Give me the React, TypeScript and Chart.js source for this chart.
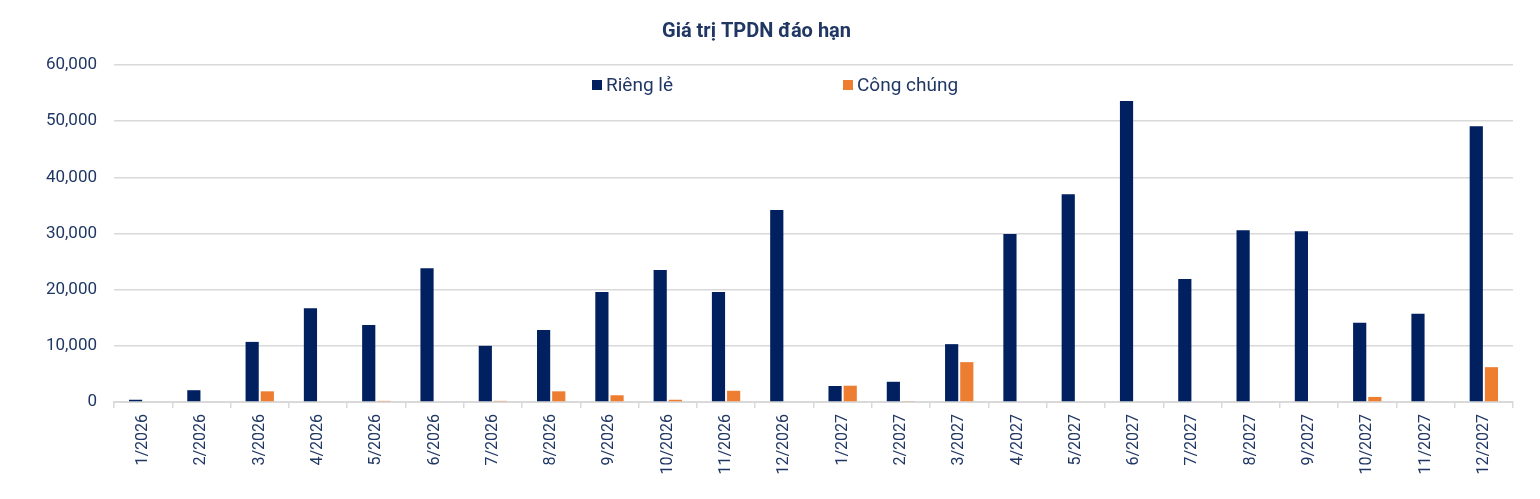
import { useEffect, useRef } from "react"
import Chart from "chart.js/auto"

const months = [
  "1/2026", "2/2026", "3/2026", "4/2026", "5/2026", "6/2026",
  "7/2026", "8/2026", "9/2026", "10/2026", "11/2026", "12/2026",
  "1/2027", "2/2027", "3/2027", "4/2027", "5/2027", "6/2027",
  "7/2027", "8/2027", "9/2027", "10/2027", "11/2027", "12/2027",
]

const seriesNames = ["Riêng lẻ", "Công chúng"]
const seriesColors = ["#002060", "#ED7D31"]

const riengLe = [
  400, 2100, 10700, 16700, 13700, 23800, 10000, 12800, 19600, 23500, 19600, 34200,
  2850, 3600, 10300, 29900, 37000, 53600, 21900, 30600, 30400, 14100, 15700, 49100,
]
const congChung = [
  0, 0, 1900, 0, 200, 0, 200, 1900, 1200, 400, 2000, 0,
  2900, 100, 7100, 0, 0, 0, 0, 0, 0, 900, 0, 6200,
]

const yMin = 0
const yMax = 60000
const yStep = 10000

const textColor = "#203764"
const gridColor = "#d9d9d9"

export default function App() {
  const canvasRef = useRef<HTMLCanvasElement>(null)

  useEffect(() => {
    document.body.style.margin = "0"
    if (!canvasRef.current) return

    const chart = new Chart(canvasRef.current, {
      type: "bar",
      data: {
        labels: months,
        datasets: [
          { label: seriesNames[0], data: riengLe, backgroundColor: seriesColors[0], borderWidth: 0 },
          { label: seriesNames[1], data: congChung, backgroundColor: seriesColors[1], borderWidth: 0 },
        ],
      },
      options: {
        animation: false,
        responsive: false,
        maintainAspectRatio: false,
        layout: { padding: { left: 0, right: 27, top: 0, bottom: 0 } },
        datasets: { bar: { categoryPercentage: 0.52, barPercentage: 0.87 } },
        plugins: {
          legend: { display: false },
          tooltip: { enabled: false },
          title: {
            display: true,
            text: "Giá trị TPDN đáo hạn",
            color: textColor,
            font: { family: "Roboto", size: 20, weight: "bold" },
            padding: { top: 20, bottom: 21 },
          },
        },
        scales: {
          x: {
            grid: {
              display: true,
              drawOnChartArea: false,
              drawTicks: true,
              tickLength: 6,
              color: gridColor,
              lineWidth: 1.5,
              offset: true,
            },
            border: { display: true, color: gridColor, width: 2 },
            ticks: {
              color: textColor,
              font: { family: "Roboto", size: 16 },
              minRotation: 90,
              maxRotation: 90,
              autoSkip: false,
              padding: 6,
            },
            afterFit: (scale) => {
              scale.height = 97
            },
          },
          y: {
            min: yMin,
            max: yMax,
            grid: { color: gridColor, lineWidth: 1.5, drawTicks: false },
            border: { display: false },
            ticks: {
              stepSize: yStep,
              color: textColor,
              font: { family: "Roboto", size: 17 },
              padding: 17,
              callback: (v) => Number(v).toLocaleString("en-US"),
            },
            afterFit: (scale) => {
              scale.width = 114
            },
          },
        },
      },
    })

    return () => chart.destroy()
  }, [])

  const legendX = [592, 843]

  return (
    <div style={{ position: "relative", width: 1540, height: 499, background: "#fff" }}>
      <canvas ref={canvasRef} width={1540} height={499} style={{ width: 1540, height: 499 }} />
      {seriesNames.map((name, i) => (
        <div
          key={name}
          style={{
            position: "absolute",
            left: legendX[i],
            top: 73,
            display: "flex",
            alignItems: "center",
            fontFamily: "Roboto",
            fontSize: 19,
            color: textColor,
            lineHeight: "24px",
          }}
        >
          <span style={{ width: 10, height: 10, background: seriesColors[i], marginRight: 4, display: "inline-block" }} />
          {name}
        </div>
      ))}
    </div>
  )
}
